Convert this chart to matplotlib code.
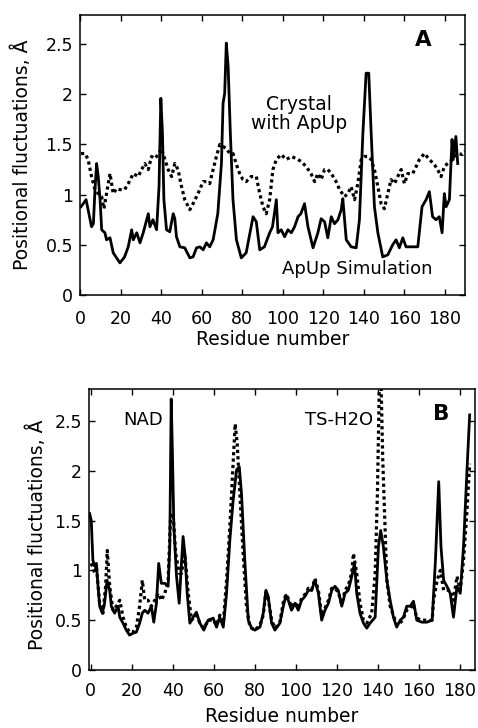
import matplotlib
matplotlib.use("Agg")
import matplotlib.pyplot as plt

plt.rcParams['font.family'] = ['DejaVu Sans']

# ---- Panel A data ----
a_sim_x = [0.5, 1.6, 3, 4, 5.7, 6.6, 7.4, 8.2, 9, 9.9, 10.7, 12.3, 13.1, 14.8, 16.4, 19.7, 22, 23.8,
           25.5, 26.3, 28, 29.6, 31.2, 33.7, 34.5, 36, 37.8, 39, 39.9, 40.7, 41.4, 42.7, 44.3, 46,
           46.8, 47.6, 49.3, 51.7, 54.2, 55.8, 57.5, 59.1, 60.8, 62.4, 64, 65.7, 68, 69.8, 70.6,
           71.4, 72.2, 73.1, 74.2, 75.5, 77.2, 79.6, 82, 85.4, 87, 88.7, 91, 93.6, 95, 96.9, 97.7,
           99.3, 101, 102.6, 104.3, 105.9, 107.6, 109, 110.8, 112.5, 115, 117.4, 119, 120.7, 122.3,
           124, 125.6, 127.3, 128.9, 129.7, 131.4, 133.8, 136.3, 137.9, 139.6, 141.2, 142.5, 143.7,
           145.3, 147, 149.4, 151.9, 154.3, 156, 157.6, 159.3, 160.9, 163.4, 166.7, 168.8, 170.8,
           172.4, 174, 175.7, 177.3, 178.7, 179.8, 180.7, 182.3, 183.6, 184.2, 185.5, 186.4]
a_sim_y = [0.88, 0.91, 0.95, 0.85, 0.68, 0.71, 1.05, 1.31, 1.18, 0.95, 0.65, 0.62, 0.55, 0.57, 0.42,
           0.32, 0.38, 0.48, 0.65, 0.55, 0.62, 0.52, 0.62, 0.81, 0.68, 0.75, 0.65, 1.08, 1.96, 1.61,
           0.95, 0.65, 0.63, 0.81, 0.76, 0.58, 0.48, 0.47, 0.37, 0.38, 0.47, 0.48, 0.45, 0.52, 0.48,
           0.55, 0.81, 1.31, 1.91, 2.01, 2.51, 2.28, 1.61, 0.95, 0.55, 0.37, 0.42, 0.78, 0.73, 0.45,
           0.48, 0.62, 0.68, 0.95, 0.62, 0.65, 0.58, 0.65, 0.62, 0.68, 0.78, 0.81, 0.91, 0.68, 0.47,
           0.62, 0.76, 0.73, 0.57, 0.78, 0.71, 0.75, 0.85, 0.96, 0.55, 0.48, 0.47, 0.75, 1.61, 2.21,
           2.21, 1.61, 0.88, 0.62, 0.38, 0.40, 0.50, 0.55, 0.47, 0.57, 0.48, 0.48, 0.48, 0.88, 0.95,
           1.03, 0.78, 0.75, 0.78, 0.62, 1.01, 0.88, 0.95, 1.55, 1.35, 1.58, 1.31]

a_cry_x = [0.5, 2.5, 4, 5.7, 7.4, 9, 10.7, 11.8, 13.1, 14.8, 16.4, 18, 19.7, 22, 23.8, 26.3, 28.7,
           30.4, 32, 33.7, 35.3, 36.9, 38.6, 40.2, 41.9, 43.5, 45.2, 46.8, 48.4, 50.1, 51.7, 54.2,
           55.8, 57.5, 59.1, 60.8, 62.4, 64, 65.7, 67.3, 69, 70.6, 72.2, 73.9, 75.5, 77.2, 78.8,
           80.4, 82, 84.4, 87, 88.7, 90.3, 91.9, 93.6, 95.2, 96.9, 99.3, 101.8, 104.3, 106.7, 109.2,
           111.6, 114, 115.8, 117.4, 119, 120.7, 122.3, 124, 126.4, 128.1, 130.5, 132.2, 133.8,
           135.5, 137.1, 138.8, 140.4, 142, 143.7, 145.3, 147, 148.6, 150.2, 151.9, 153.5, 155.2,
           156.8, 158.5, 160.1, 161.8, 164.2, 165.9, 167.5, 170, 172.4, 174.9, 176.5, 178.2, 179.8,
           181.4, 183.9, 186.4, 188.8, 190]
a_cry_y = [1.41, 1.41, 1.35, 1.18, 1.05, 1.01, 0.98, 0.86, 1.01, 1.21, 1.01, 1.06, 1.05, 1.05, 1.11,
           1.21, 1.18, 1.25, 1.31, 1.25, 1.38, 1.36, 1.40, 1.46, 1.35, 1.25, 1.18, 1.31, 1.25, 1.08,
           0.95, 0.85, 0.91, 0.98, 1.05, 1.13, 1.13, 1.11, 1.25, 1.38, 1.50, 1.48, 1.46, 1.41, 1.41,
           1.30, 1.21, 1.15, 1.13, 1.18, 1.18, 1.01, 0.88, 0.81, 0.95, 1.25, 1.35, 1.40, 1.35, 1.38,
           1.36, 1.33, 1.28, 1.21, 1.13, 1.21, 1.15, 1.25, 1.25, 1.21, 1.13, 1.05, 0.98, 1.01, 1.08,
           0.95, 1.11, 1.35, 1.38, 1.38, 1.35, 1.25, 1.08, 0.91, 0.86, 1.01, 1.15, 1.11, 1.18, 1.25,
           1.11, 1.21, 1.21, 1.28, 1.35, 1.41, 1.35, 1.30, 1.25, 1.18, 1.28, 1.31, 1.35, 1.41, 1.40,
           1.43]

# ---- Panel B data ----
b_nad_x = [-0.5, 0.3, 1.1, 2, 2.8, 3.6, 4.4, 5.7, 6.8, 8, 9.3, 10.1, 11.7, 13.4, 14.2, 15.8, 17.4,
           19, 20.7, 22.3, 23.9, 25.2, 26.4, 28, 29.6, 30.8, 32.1, 33.2, 34.5, 36.2, 37.8, 38.6,
           39.3, 39.9, 40.6, 41.9, 43.2, 44.3, 45.1, 46.1, 47.1, 48.4, 50, 51.6, 53.3, 55.2, 57.3,
           59.8, 61.4, 63, 64.7, 66.3, 67.9, 69.5, 71.2, 72.5, 73.6, 75.2, 76.9, 78.5, 80.1, 82.6,
           84.2, 85.5, 86.6, 88.3, 89.9, 92.3, 94, 95.3, 96.4, 98, 99.7, 101.3, 102.9, 104.6, 106.2,
           107.8, 109.4, 111.1, 112.7, 114.3, 116, 117.6, 119.2, 120.8, 122.5, 124.1, 125.7, 127.4,
           128.7, 129.8, 131.4, 133.1, 134.7, 136.3, 138.8, 140.4, 141.5, 142.8, 144.5, 146.1,
           147.7, 149.3, 151, 152.6, 154.2, 155.9, 157.5, 159.1, 161.6, 164, 166.6, 168.2, 169.8,
           170.9, 172.2, 173.8, 175.4, 177, 178.7, 180.3, 181.9, 183.6, 184.9]
b_nad_y = [1.57, 1.50, 1.10, 1.04, 1.07, 0.84, 0.64, 0.57, 0.67, 0.90, 0.80, 0.64, 0.57, 0.64, 0.53,
           0.47, 0.40, 0.35, 0.37, 0.38, 0.47, 0.57, 0.60, 0.57, 0.64, 0.48, 0.67, 1.07, 0.87, 0.87,
           0.84, 1.24, 2.72, 2.17, 1.44, 0.94, 0.67, 1.07, 1.34, 1.14, 0.77, 0.47, 0.53, 0.58, 0.47,
           0.40, 0.50, 0.52, 0.43, 0.53, 0.43, 0.77, 1.30, 1.70, 2.01, 2.04, 1.77, 1.10, 0.50, 0.42,
           0.40, 0.43, 0.57, 0.80, 0.74, 0.47, 0.40, 0.47, 0.64, 0.75, 0.70, 0.60, 0.67, 0.60, 0.70,
           0.74, 0.80, 0.80, 0.90, 0.77, 0.50, 0.60, 0.67, 0.80, 0.84, 0.80, 0.64, 0.77, 0.80, 0.94,
           1.07, 0.77, 0.57, 0.47, 0.42, 0.47, 0.53, 1.24, 1.40, 1.24, 0.90, 0.70, 0.53, 0.43, 0.50,
           0.53, 0.64, 0.64, 0.69, 0.50, 0.48, 0.48, 0.50, 1.10, 1.89, 1.24, 0.90, 0.84, 0.77, 0.53,
           0.84, 0.77, 1.24, 2.01, 2.56]

b_ts_x = [0.3, 2, 2.8, 4.4, 6, 7.3, 8.1, 9.3, 10.9, 12.5,
          14.2, 15.8, 17.4, 19, 20.7, 22.3, 23.9, 25.2, 26.4, 28,
          29.6, 31.3, 32.9, 34.5, 36.2, 37.8, 39, 40.2, 41.5, 43.2,
          44.3, 45.9, 47.6, 49.2, 51.6, 53.3, 55.2, 57.3, 59.8, 61.4,
          63, 64.7, 66.3, 67.9, 69.5, 70.5, 71.5, 72.8, 74.4, 76,
          77.7, 80.1, 82.6, 84.2, 85.5, 86.6, 88.3, 89.9, 92.3, 94,
          95.3, 96.4, 98, 99.7, 101.3, 102.9, 104.6, 106.2, 107.8, 109.4,
          111.1, 112.7, 114.3, 116, 117.6, 119.2, 120.8, 122.5, 124.1, 125.7,
          127.4, 128.2, 129.8, 131.4, 133.1, 134.7, 137.1, 138.8, 139.9, 140.9,
          141.5, 142.5, 143.6, 144.5, 146.1, 147.7, 149.3, 151, 152.6, 154.2,
          155.9, 157.5, 159.1, 161.6, 164, 166.6, 167.3, 169, 170.6, 172.2,
          175.4, 177, 178.7, 180.3, 181.9, 183.6, 184.9]
b_ts_y = [1.07, 0.97, 1.04, 0.67, 0.57, 0.84, 1.20, 0.84, 0.60, 0.64,
          0.70, 0.53, 0.43, 0.38, 0.38, 0.43, 0.64, 0.90, 0.70, 0.70,
          0.64, 0.70, 0.77, 0.70, 0.77, 0.90, 1.54, 1.57, 1.17, 0.97,
          0.97, 1.17, 0.77, 0.50, 0.55, 0.47, 0.42, 0.50, 0.50, 0.45,
          0.55, 0.47, 0.90, 1.44, 2.07, 2.47, 2.27, 1.77, 1.17, 0.64,
          0.43, 0.40, 0.45, 0.55, 0.78, 0.72, 0.50, 0.42, 0.48, 0.68,
          0.76, 0.72, 0.63, 0.68, 0.62, 0.72, 0.76, 0.82, 0.80, 0.92,
          0.80, 0.55, 0.62, 0.70, 0.82, 0.82, 0.78, 0.66, 0.80, 0.85,
          0.98, 1.17, 0.97, 0.67, 0.50, 0.47, 0.57, 0.97, 1.77, 2.95,
          3.05, 2.11, 1.44, 0.90, 0.64, 0.55, 0.45, 0.47, 0.52, 0.60,
          0.62, 0.66, 0.52, 0.50, 0.50, 0.50, 0.70, 0.90, 1.00, 0.80,
          0.80, 0.70, 0.94, 0.80, 1.10, 1.60, 2.07]

xticks_a = [0, 20, 40, 60, 80, 100, 120, 140, 160, 180]
xticks_b = [0, 20, 40, 60, 80, 100, 120, 140, 160, 180]
yticks = [0, 0.5, 1, 1.5, 2, 2.5]
ytick_labels = ['0', '0.5', '1', '1.5', '2', '2.5']

fig = plt.figure(figsize=(4.78, 7.28), dpi=100)
ax1 = fig.add_axes([80 / 478, 1 - 295 / 728, 385 / 478, 280 / 728])
ax2 = fig.add_axes([89 / 478, 1 - 670 / 728, 386 / 478, 281 / 728])

fs_tick = 12.5
fs_lab = 13.5
fs_txt = 13
dot = (0, (1.0, 1.0))

for ax in (ax1, ax2):
    ax.set_yticks(yticks)
    ax.set_yticklabels(ytick_labels)
    ax.tick_params(direction='in', top=True, right=True, length=4.5, width=1,
                   labelsize=fs_tick)
    ax.tick_params(axis='y', pad=5)
    for s in ax.spines.values():
        s.set_linewidth(1.1)
    ax.set_ylabel('Positional fluctuations, Å', fontsize=fs_lab)
    ax.set_xlabel('Residue number', fontsize=fs_lab)

ax1.tick_params(axis='x', pad=10.5)
ax2.tick_params(axis='x', pad=9)
ax1.yaxis.set_label_coords(-0.151, 0.5)
ax2.yaxis.set_label_coords(-0.135, 0.48)
ax1.xaxis.set_label_coords(0.5, -0.16)
ax2.xaxis.set_label_coords(0.5, -0.167)
ax1.xaxis.label.set_va('center')
ax2.xaxis.label.set_va('center')
ax1.yaxis.label.set_va('center')
ax2.yaxis.label.set_va('center')

ax1.plot(a_cry_x, a_cry_y, color='black', lw=2.3, linestyle=dot)
ax1.plot(a_sim_x, a_sim_y, color='black', lw=2.0)
ax1.set_xlim(0, 190)
ax1.set_ylim(0, 2.79)
ax1.set_xticks(xticks_a)
ax1.text(108, 1.80, 'Crystal\nwith ApUp', ha='center', va='center', fontsize=fs_txt + 0.5,
         linespacing=1.0)
ax1.text(137, 0.26, 'ApUp Simulation', ha='center', va='center', fontsize=fs_txt)
ax1.text(169.5, 2.54, 'A', ha='center', va='center', fontsize=15.5, fontweight='bold')

ax2.plot(b_ts_x, b_ts_y, color='black', lw=2.3, linestyle=dot)
ax2.plot(b_nad_x, b_nad_y, color='black', lw=2.0)
ax2.set_xlim(-0.8, 187.5)
ax2.set_ylim(0, 2.82)
ax2.set_xticks(xticks_b)
ax2.text(25.5, 2.51, 'NAD', ha='center', va='center', fontsize=fs_txt)
ax2.text(121, 2.51, 'TS-H2O', ha='center', va='center', fontsize=fs_txt)
ax2.text(170.9, 2.57, 'B', ha='center', va='center', fontsize=15.5, fontweight='bold')

fig.savefig('out.png', dpi=100)
